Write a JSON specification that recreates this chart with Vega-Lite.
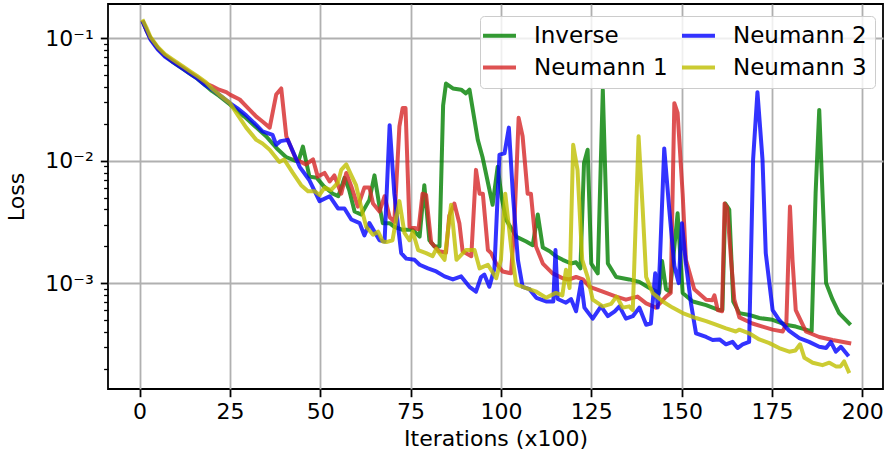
{
 "$schema": "https://vega.github.io/schema/vega-lite/v6.json",
 "width": 775, "height": 385,
 "autosize": {"type": "none"},
 "padding": {"left": 108, "top": 4, "right": 4, "bottom": 68},
 "background": "white",
 "config": {
  "font": "DejaVu Sans",
  "view": {"stroke": "black", "strokeWidth": 1.8},
  "axis": {"labelFont": "DejaVu Sans", "titleFont": "DejaVu Sans", "labelFontSize": 22, "titleFontSize": 22, "titleFontWeight": "normal", "labelColor": "black", "titleColor": "black", "tickColor": "black", "domain": false, "gridColor": "#b0b0b0", "gridWidth": 1.8, "labelOverlap": false, "labelFlush": false, "labelBound": false}
 },
 "datasets": {
  "loss": [
   {"s":"Inverse","x":1,"y":0.1349},{"s":"Inverse","x":2,"y":0.1148},{"s":"Inverse","x":3,"y":0.1},{"s":"Inverse","x":5,"y":0.08318},{"s":"Inverse","x":7,"y":0.07244},{"s":"Inverse","x":9,"y":0.06457},{"s":"Inverse","x":12,"y":0.05623},{"s":"Inverse","x":14,"y":0.05129},{"s":"Inverse","x":16,"y":0.04677},{"s":"Inverse","x":18,"y":0.04169},{"s":"Inverse","x":20,"y":0.03715},{"s":"Inverse","x":22,"y":0.03388},{"s":"Inverse","x":25,"y":0.02884},{"s":"Inverse","x":27,"y":0.0257},{"s":"Inverse","x":29,"y":0.02291},{"s":"Inverse","x":32,"y":0.01905},{"s":"Inverse","x":35,"y":0.01585},{"s":"Inverse","x":38,"y":0.01259},{"s":"Inverse","x":40.5,"y":0.01072},{"s":"Inverse","x":43,"y":0.01},{"s":"Inverse","x":44,"y":0.01},{"s":"Inverse","x":45.2,"y":0.01303},{"s":"Inverse","x":47,"y":0.007413},{"s":"Inverse","x":49,"y":0.007244},{"s":"Inverse","x":51,"y":0.006166},{"s":"Inverse","x":53.5,"y":0.00537},{"s":"Inverse","x":55,"y":0.005129},{"s":"Inverse","x":56.7,"y":0.007244},{"s":"Inverse","x":58,"y":0.005754},{"s":"Inverse","x":59.5,"y":0.003846},{"s":"Inverse","x":61.3,"y":0.003631},{"s":"Inverse","x":63.6,"y":0.004786},{"s":"Inverse","x":65,"y":0.007586},{"s":"Inverse","x":66.4,"y":0.004217},{"s":"Inverse","x":67.3,"y":0.00309},{"s":"Inverse","x":69.2,"y":0.00309},{"s":"Inverse","x":70.5,"y":0.002884},{"s":"Inverse","x":72.8,"y":0.002723},{"s":"Inverse","x":75.6,"y":0.002723},{"s":"Inverse","x":77.5,"y":0.002399},{"s":"Inverse","x":78.8,"y":0.00631},{"s":"Inverse","x":80.2,"y":0.002239},{"s":"Inverse","x":81.6,"y":0.001995},{"s":"Inverse","x":83,"y":0.001995},{"s":"Inverse","x":84,"y":0.02818},{"s":"Inverse","x":84.8,"y":0.04266},{"s":"Inverse","x":86.7,"y":0.0389},{"s":"Inverse","x":89,"y":0.03802},{"s":"Inverse","x":90.3,"y":0.03548},{"s":"Inverse","x":91.3,"y":0.03802},{"s":"Inverse","x":93.6,"y":0.01479},{"s":"Inverse","x":94.9,"y":0.01072},{"s":"Inverse","x":97.7,"y":0.004365},{"s":"Inverse","x":99.1,"y":0.008913},{"s":"Inverse","x":100.2,"y":0.005012},{"s":"Inverse","x":101.4,"y":0.003311},{"s":"Inverse","x":104.2,"y":0.002399},{"s":"Inverse","x":107,"y":0.002188},{"s":"Inverse","x":108.8,"y":0.002042},{"s":"Inverse","x":110.2,"y":0.003631},{"s":"Inverse","x":111.6,"y":0.00195},{"s":"Inverse","x":113.5,"y":0.00182},{"s":"Inverse","x":115.2,"y":0.00166},{"s":"Inverse","x":117.1,"y":0.001549},{"s":"Inverse","x":119.4,"y":0.001445},{"s":"Inverse","x":120.8,"y":0.001479},{"s":"Inverse","x":122,"y":0.001318},{"s":"Inverse","x":123,"y":0.00955},{"s":"Inverse","x":124,"y":0.0123},{"s":"Inverse","x":125,"y":0.001445},{"s":"Inverse","x":126.8,"y":0.001202},{"s":"Inverse","x":128.2,"y":0.03802},{"s":"Inverse","x":129.6,"y":0.001445},{"s":"Inverse","x":131.9,"y":0.001122},{"s":"Inverse","x":135.5,"y":0.001072},{"s":"Inverse","x":138.3,"y":0.001023},{"s":"Inverse","x":141.1,"y":0.000912},{"s":"Inverse","x":143.8,"y":0.0008318},{"s":"Inverse","x":144.6,"y":0.001514},{"s":"Inverse","x":145.7,"y":0.0008913},{"s":"Inverse","x":146.8,"y":0.0008511},{"s":"Inverse","x":148.9,"y":0.003715},{"s":"Inverse","x":150.3,"y":0.0008318},{"s":"Inverse","x":153.1,"y":0.0007079},{"s":"Inverse","x":156.8,"y":0.0006607},{"s":"Inverse","x":160.4,"y":0.0006026},{"s":"Inverse","x":161.3,"y":0.0006026},{"s":"Inverse","x":162.1,"y":0.004467},{"s":"Inverse","x":163.2,"y":0.003981},{"s":"Inverse","x":164.3,"y":0.0007079},{"s":"Inverse","x":166,"y":0.0005689},{"s":"Inverse","x":168.7,"y":0.0005495},{"s":"Inverse","x":171.5,"y":0.0005188},{"s":"Inverse","x":175.2,"y":0.0005012},{"s":"Inverse","x":178.8,"y":0.0004571},{"s":"Inverse","x":181.6,"y":0.0004416},{"s":"Inverse","x":184.4,"y":0.0004169},{"s":"Inverse","x":186,"y":0.0004027},{"s":"Inverse","x":187.1,"y":0.005432},{"s":"Inverse","x":188.1,"y":0.026},{"s":"Inverse","x":189,"y":0.005432},{"s":"Inverse","x":190,"y":0.001},{"s":"Inverse","x":191.8,"y":0.0007328},{"s":"Inverse","x":193.6,"y":0.0005689},{"s":"Inverse","x":196.4,"y":0.0004677},

   {"s":"Neumann 1","x":1,"y":0.1349},{"s":"Neumann 1","x":2,"y":0.1148},{"s":"Neumann 1","x":3,"y":0.1},{"s":"Neumann 1","x":5,"y":0.08318},{"s":"Neumann 1","x":7,"y":0.07244},{"s":"Neumann 1","x":9,"y":0.06607},{"s":"Neumann 1","x":12,"y":0.05754},{"s":"Neumann 1","x":14,"y":0.05248},{"s":"Neumann 1","x":16,"y":0.04786},{"s":"Neumann 1","x":18.4,"y":0.04266},{"s":"Neumann 1","x":20,"y":0.04074},{"s":"Neumann 1","x":22,"y":0.03802},{"s":"Neumann 1","x":24,"y":0.03631},{"s":"Neumann 1","x":25,"y":0.03467},{"s":"Neumann 1","x":27.7,"y":0.03162},{"s":"Neumann 1","x":30,"y":0.02692},{"s":"Neumann 1","x":32.3,"y":0.02291},{"s":"Neumann 1","x":34,"y":0.02089},{"s":"Neumann 1","x":36,"y":0.01862},{"s":"Neumann 1","x":37.8,"y":0.03467},{"s":"Neumann 1","x":39.2,"y":0.0389},{"s":"Neumann 1","x":40.6,"y":0.01585},{"s":"Neumann 1","x":43.3,"y":0.01023},{"s":"Neumann 1","x":46,"y":0.009333},{"s":"Neumann 1","x":48,"y":0.01023},{"s":"Neumann 1","x":49.3,"y":0.007413},{"s":"Neumann 1","x":51.2,"y":0.007943},{"s":"Neumann 1","x":52.6,"y":0.006761},{"s":"Neumann 1","x":53.9,"y":0.007586},{"s":"Neumann 1","x":55.8,"y":0.00537},{"s":"Neumann 1","x":57.2,"y":0.007943},{"s":"Neumann 1","x":58.6,"y":0.006166},{"s":"Neumann 1","x":60.4,"y":0.004217},{"s":"Neumann 1","x":62.2,"y":0.006026},{"s":"Neumann 1","x":63.6,"y":0.006026},{"s":"Neumann 1","x":64.6,"y":0.004467},{"s":"Neumann 1","x":66.4,"y":0.003846},{"s":"Neumann 1","x":67.8,"y":0.005129},{"s":"Neumann 1","x":69.2,"y":0.003467},{"s":"Neumann 1","x":70.5,"y":0.003162},{"s":"Neumann 1","x":71.9,"y":0.01905},{"s":"Neumann 1","x":72.8,"y":0.02692},{"s":"Neumann 1","x":73.6,"y":0.02692},{"s":"Neumann 1","x":74.7,"y":0.002884},{"s":"Neumann 1","x":76.1,"y":0.002818},{"s":"Neumann 1","x":77.2,"y":0.002754},{"s":"Neumann 1","x":78.3,"y":0.00537},{"s":"Neumann 1","x":79.3,"y":0.005248},{"s":"Neumann 1","x":80.7,"y":0.002138},{"s":"Neumann 1","x":82.9,"y":0.00182},{"s":"Neumann 1","x":84.8,"y":0.001778},{"s":"Neumann 1","x":85.7,"y":0.003548},{"s":"Neumann 1","x":87.1,"y":0.004467},{"s":"Neumann 1","x":88.5,"y":0.00309},{"s":"Neumann 1","x":89.4,"y":0.00182},{"s":"Neumann 1","x":91.8,"y":0.00166},{"s":"Neumann 1","x":93.1,"y":0.008414},{"s":"Neumann 1","x":94.1,"y":0.00537},{"s":"Neumann 1","x":95,"y":0.00537},{"s":"Neumann 1","x":96.4,"y":0.001862},{"s":"Neumann 1","x":97.3,"y":0.001758},{"s":"Neumann 1","x":98.7,"y":0.001445},{"s":"Neumann 1","x":100.5,"y":0.001245},{"s":"Neumann 1","x":102.8,"y":0.001202},{"s":"Neumann 1","x":103.7,"y":0.002884},{"s":"Neumann 1","x":104.9,"y":0.02239},{"s":"Neumann 1","x":106,"y":0.01585},{"s":"Neumann 1","x":107.4,"y":0.00537},{"s":"Neumann 1","x":108.3,"y":0.00537},{"s":"Neumann 1","x":109.7,"y":0.001995},{"s":"Neumann 1","x":111.6,"y":0.001445},{"s":"Neumann 1","x":114.3,"y":0.001202},{"s":"Neumann 1","x":117.1,"y":0.001096},{"s":"Neumann 1","x":118.9,"y":0.001072},{"s":"Neumann 1","x":120.8,"y":0.001122},{"s":"Neumann 1","x":122.7,"y":0.001072},{"s":"Neumann 1","x":124.5,"y":0.0009333},{"s":"Neumann 1","x":126.3,"y":0.0008913},{"s":"Neumann 1","x":129.1,"y":0.0008318},{"s":"Neumann 1","x":131.9,"y":0.0007762},{"s":"Neumann 1","x":134.6,"y":0.0007328},{"s":"Neumann 1","x":137.8,"y":0.0007762},{"s":"Neumann 1","x":140.2,"y":0.0006839},{"s":"Neumann 1","x":142.9,"y":0.000631},{"s":"Neumann 1","x":145.7,"y":0.0007762},{"s":"Neumann 1","x":147,"y":0.0008318},{"s":"Neumann 1","x":148,"y":0.02951},{"s":"Neumann 1","x":148.9,"y":0.02455},{"s":"Neumann 1","x":150.3,"y":0.00537},{"s":"Neumann 1","x":151.2,"y":0.001549},{"s":"Neumann 1","x":153.5,"y":0.0008913},{"s":"Neumann 1","x":156.8,"y":0.0007328},{"s":"Neumann 1","x":158.5,"y":0.0007244},{"s":"Neumann 1","x":159.1,"y":0.0007943},{"s":"Neumann 1","x":160,"y":0.0006026},{"s":"Neumann 1","x":161.2,"y":0.0005888},{"s":"Neumann 1","x":161.9,"y":0.004467},{"s":"Neumann 1","x":162.6,"y":0.004169},{"s":"Neumann 1","x":163.7,"y":0.001549},{"s":"Neumann 1","x":164.6,"y":0.0007328},{"s":"Neumann 1","x":166,"y":0.0005248},{"s":"Neumann 1","x":169.6,"y":0.0004677},{"s":"Neumann 1","x":172.4,"y":0.0004416},{"s":"Neumann 1","x":175.2,"y":0.0004169},{"s":"Neumann 1","x":178,"y":0.0004027},{"s":"Neumann 1","x":179,"y":0.0004677},{"s":"Neumann 1","x":180,"y":0.004217},{"s":"Neumann 1","x":180.7,"y":0.001549},{"s":"Neumann 1","x":181.6,"y":0.0006026},{"s":"Neumann 1","x":184.4,"y":0.0004027},{"s":"Neumann 1","x":188.1,"y":0.0003631},{"s":"Neumann 1","x":191.8,"y":0.0003428},{"s":"Neumann 1","x":196.4,"y":0.0003236},

   {"s":"Neumann 2","x":1,"y":0.1334},{"s":"Neumann 2","x":2,"y":0.1135},{"s":"Neumann 2","x":3,"y":0.09772},{"s":"Neumann 2","x":5,"y":0.08128},{"s":"Neumann 2","x":7,"y":0.07079},{"s":"Neumann 2","x":9,"y":0.06457},{"s":"Neumann 2","x":12,"y":0.05623},{"s":"Neumann 2","x":14,"y":0.05129},{"s":"Neumann 2","x":16,"y":0.04677},{"s":"Neumann 2","x":18,"y":0.04169},{"s":"Neumann 2","x":20.2,"y":0.03802},{"s":"Neumann 2","x":22,"y":0.03467},{"s":"Neumann 2","x":25,"y":0.02951},{"s":"Neumann 2","x":27,"y":0.02692},{"s":"Neumann 2","x":29.5,"y":0.02344},{"s":"Neumann 2","x":32,"y":0.01995},{"s":"Neumann 2","x":34,"y":0.01738},{"s":"Neumann 2","x":36.8,"y":0.01622},{"s":"Neumann 2","x":37.8,"y":0.01349},{"s":"Neumann 2","x":39,"y":0.01445},{"s":"Neumann 2","x":41,"y":0.01479},{"s":"Neumann 2","x":44.3,"y":0.008913},{"s":"Neumann 2","x":47,"y":0.006918},{"s":"Neumann 2","x":49.8,"y":0.004677},{"s":"Neumann 2","x":52.6,"y":0.005129},{"s":"Neumann 2","x":54.9,"y":0.004074},{"s":"Neumann 2","x":56.7,"y":0.004074},{"s":"Neumann 2","x":58.6,"y":0.003311},{"s":"Neumann 2","x":60.9,"y":0.00309},{"s":"Neumann 2","x":62.2,"y":0.002455},{"s":"Neumann 2","x":63.6,"y":0.00309},{"s":"Neumann 2","x":66.4,"y":0.002239},{"s":"Neumann 2","x":67.8,"y":0.002188},{"s":"Neumann 2","x":69.2,"y":0.0195},{"s":"Neumann 2","x":70.5,"y":0.00537},{"s":"Neumann 2","x":72.4,"y":0.001758},{"s":"Neumann 2","x":73.8,"y":0.001585},{"s":"Neumann 2","x":76.1,"y":0.001549},{"s":"Neumann 2","x":77.5,"y":0.001413},{"s":"Neumann 2","x":79.8,"y":0.001318},{"s":"Neumann 2","x":82.1,"y":0.001245},{"s":"Neumann 2","x":84.4,"y":0.001135},{"s":"Neumann 2","x":86.7,"y":0.001072},{"s":"Neumann 2","x":89,"y":0.001135},{"s":"Neumann 2","x":91.3,"y":0.0009333},{"s":"Neumann 2","x":93.1,"y":0.0008511},{"s":"Neumann 2","x":94.5,"y":0.001122},{"s":"Neumann 2","x":95.4,"y":0.001175},{"s":"Neumann 2","x":96.8,"y":0.0009333},{"s":"Neumann 2","x":98.2,"y":0.001318},{"s":"Neumann 2","x":99.6,"y":0.01122},{"s":"Neumann 2","x":101,"y":0.01148},{"s":"Neumann 2","x":102.2,"y":0.01862},{"s":"Neumann 2","x":103.3,"y":0.00537},{"s":"Neumann 2","x":104.7,"y":0.001549},{"s":"Neumann 2","x":106,"y":0.0009333},{"s":"Neumann 2","x":107.9,"y":0.0008913},{"s":"Neumann 2","x":109.8,"y":0.0007586},{"s":"Neumann 2","x":112.5,"y":0.0007079},{"s":"Neumann 2","x":114.5,"y":0.0007079},{"s":"Neumann 2","x":115.1,"y":0.001862},{"s":"Neumann 2","x":115.7,"y":0.0007413},{"s":"Neumann 2","x":118,"y":0.0006918},{"s":"Neumann 2","x":119.4,"y":0.0007413},{"s":"Neumann 2","x":120.8,"y":0.0005888},{"s":"Neumann 2","x":122.2,"y":0.001023},{"s":"Neumann 2","x":123.1,"y":0.000631},{"s":"Neumann 2","x":125.4,"y":0.0005129},{"s":"Neumann 2","x":127.7,"y":0.0006457},{"s":"Neumann 2","x":129.6,"y":0.000537},{"s":"Neumann 2","x":131.5,"y":0.0005888},{"s":"Neumann 2","x":132.8,"y":0.0006457},{"s":"Neumann 2","x":134.6,"y":0.0005129},{"s":"Neumann 2","x":136.5,"y":0.000537},{"s":"Neumann 2","x":138.3,"y":0.000631},{"s":"Neumann 2","x":140.2,"y":0.0004571},{"s":"Neumann 2","x":141.5,"y":0.0004677},{"s":"Neumann 2","x":142.7,"y":0.001202},{"s":"Neumann 2","x":143.4,"y":0.000631},{"s":"Neumann 2","x":144,"y":0.001514},{"s":"Neumann 2","x":145.2,"y":0.01259},{"s":"Neumann 2","x":146.6,"y":0.003981},{"s":"Neumann 2","x":148,"y":0.00138},{"s":"Neumann 2","x":149.2,"y":0.001},{"s":"Neumann 2","x":150.1,"y":0.00309},{"s":"Neumann 2","x":151.2,"y":0.001445},{"s":"Neumann 2","x":152.6,"y":0.0006839},{"s":"Neumann 2","x":154,"y":0.000389},{"s":"Neumann 2","x":156.8,"y":0.0003631},{"s":"Neumann 2","x":158.6,"y":0.0003428},{"s":"Neumann 2","x":160.5,"y":0.0003467},{"s":"Neumann 2","x":162.3,"y":0.0003162},{"s":"Neumann 2","x":164.1,"y":0.0003311},{"s":"Neumann 2","x":165.5,"y":0.0002951},{"s":"Neumann 2","x":166.9,"y":0.0003162},{"s":"Neumann 2","x":168.7,"y":0.0003311},{"s":"Neumann 2","x":169.8,"y":0.01023},{"s":"Neumann 2","x":171,"y":0.03631},{"s":"Neumann 2","x":172.4,"y":0.01023},{"s":"Neumann 2","x":173.3,"y":0.001758},{"s":"Neumann 2","x":175.2,"y":0.0006026},{"s":"Neumann 2","x":177,"y":0.0005012},{"s":"Neumann 2","x":179.8,"y":0.0004074},{"s":"Neumann 2","x":182.6,"y":0.0003548},{"s":"Neumann 2","x":185.3,"y":0.0003311},{"s":"Neumann 2","x":188.1,"y":0.000302},{"s":"Neumann 2","x":190,"y":0.0002951},{"s":"Neumann 2","x":191.3,"y":0.0003311},{"s":"Neumann 2","x":192.7,"y":0.0002754},{"s":"Neumann 2","x":194.1,"y":0.000302},{"s":"Neumann 2","x":195.9,"y":0.00026},

   {"s":"Neumann 3","x":1,"y":0.138},{"s":"Neumann 3","x":2,"y":0.1202},{"s":"Neumann 3","x":3,"y":0.1023},{"s":"Neumann 3","x":5,"y":0.08511},{"s":"Neumann 3","x":7,"y":0.07413},{"s":"Neumann 3","x":9,"y":0.06761},{"s":"Neumann 3","x":12,"y":0.05888},{"s":"Neumann 3","x":14,"y":0.0537},{"s":"Neumann 3","x":16,"y":0.04898},{"s":"Neumann 3","x":18.4,"y":0.04365},{"s":"Neumann 3","x":20,"y":0.0389},{"s":"Neumann 3","x":22,"y":0.03467},{"s":"Neumann 3","x":25,"y":0.02951},{"s":"Neumann 3","x":27,"y":0.02399},{"s":"Neumann 3","x":29.5,"y":0.01862},{"s":"Neumann 3","x":32.3,"y":0.01479},{"s":"Neumann 3","x":34,"y":0.0138},{"s":"Neumann 3","x":36,"y":0.0123},{"s":"Neumann 3","x":38.7,"y":0.009772},{"s":"Neumann 3","x":40,"y":0.01023},{"s":"Neumann 3","x":42.4,"y":0.007943},{"s":"Neumann 3","x":44.7,"y":0.00631},{"s":"Neumann 3","x":46.6,"y":0.005623},{"s":"Neumann 3","x":48.5,"y":0.005623},{"s":"Neumann 3","x":49.8,"y":0.005248},{"s":"Neumann 3","x":51.2,"y":0.006026},{"s":"Neumann 3","x":53,"y":0.005754},{"s":"Neumann 3","x":54.9,"y":0.006607},{"s":"Neumann 3","x":55.8,"y":0.008414},{"s":"Neumann 3","x":57.2,"y":0.009333},{"s":"Neumann 3","x":58.6,"y":0.007586},{"s":"Neumann 3","x":59.9,"y":0.00631},{"s":"Neumann 3","x":61.3,"y":0.004217},{"s":"Neumann 3","x":62.7,"y":0.002884},{"s":"Neumann 3","x":64.6,"y":0.002483},{"s":"Neumann 3","x":66,"y":0.00263},{"s":"Neumann 3","x":67.3,"y":0.002188},{"s":"Neumann 3","x":68.3,"y":0.002163},{"s":"Neumann 3","x":70,"y":0.002239},{"s":"Neumann 3","x":71,"y":0.003311},{"s":"Neumann 3","x":71.9,"y":0.004677},{"s":"Neumann 3","x":73.3,"y":0.00257},{"s":"Neumann 3","x":74.7,"y":0.002239},{"s":"Neumann 3","x":75.6,"y":0.00263},{"s":"Neumann 3","x":77.1,"y":0.001862},{"s":"Neumann 3","x":79.3,"y":0.001758},{"s":"Neumann 3","x":81.1,"y":0.00166},{"s":"Neumann 3","x":82.1,"y":0.001905},{"s":"Neumann 3","x":84.4,"y":0.001549},{"s":"Neumann 3","x":86.2,"y":0.004365},{"s":"Neumann 3","x":87.7,"y":0.001549},{"s":"Neumann 3","x":90.3,"y":0.001862},{"s":"Neumann 3","x":92.7,"y":0.001862},{"s":"Neumann 3","x":94.1,"y":0.001318},{"s":"Neumann 3","x":96.4,"y":0.001413},{"s":"Neumann 3","x":98.7,"y":0.001096},{"s":"Neumann 3","x":100,"y":0.001549},{"s":"Neumann 3","x":101.2,"y":0.00537},{"s":"Neumann 3","x":102.8,"y":0.001995},{"s":"Neumann 3","x":104.2,"y":0.0009772},{"s":"Neumann 3","x":107,"y":0.000912},{"s":"Neumann 3","x":109.8,"y":0.0008511},{"s":"Neumann 3","x":112.5,"y":0.0007586},{"s":"Neumann 3","x":115.2,"y":0.0008318},{"s":"Neumann 3","x":117,"y":0.0007943},{"s":"Neumann 3","x":118,"y":0.001288},{"s":"Neumann 3","x":119,"y":0.000912},{"s":"Neumann 3","x":120,"y":0.01349},{"s":"Neumann 3","x":121.2,"y":0.008414},{"s":"Neumann 3","x":122.5,"y":0.001549},{"s":"Neumann 3","x":124,"y":0.001122},{"s":"Neumann 3","x":125.4,"y":0.0007328},{"s":"Neumann 3","x":128.2,"y":0.0006457},{"s":"Neumann 3","x":130.5,"y":0.0006761},{"s":"Neumann 3","x":132,"y":0.0007762},{"s":"Neumann 3","x":133.7,"y":0.000631},{"s":"Neumann 3","x":135.5,"y":0.0006457},{"s":"Neumann 3","x":136.5,"y":0.0006026},{"s":"Neumann 3","x":138.1,"y":0.01585},{"s":"Neumann 3","x":139.2,"y":0.004217},{"s":"Neumann 3","x":140.2,"y":0.001122},{"s":"Neumann 3","x":142,"y":0.0008318},{"s":"Neumann 3","x":144.8,"y":0.0007079},{"s":"Neumann 3","x":147.5,"y":0.000631},{"s":"Neumann 3","x":150.3,"y":0.0005689},{"s":"Neumann 3","x":154,"y":0.0005188},{"s":"Neumann 3","x":156.8,"y":0.0004898},{"s":"Neumann 3","x":159.5,"y":0.0004571},{"s":"Neumann 3","x":162.3,"y":0.0004266},{"s":"Neumann 3","x":165,"y":0.0004027},{"s":"Neumann 3","x":166,"y":0.0004169},{"s":"Neumann 3","x":168.7,"y":0.000389},{"s":"Neumann 3","x":171.5,"y":0.0003467},{"s":"Neumann 3","x":174.3,"y":0.0003236},{"s":"Neumann 3","x":177,"y":0.0002951},{"s":"Neumann 3","x":179.8,"y":0.0002754},{"s":"Neumann 3","x":181.5,"y":0.0002818},{"s":"Neumann 3","x":182.8,"y":0.0003162},{"s":"Neumann 3","x":184,"y":0.0002455},{"s":"Neumann 3","x":186.3,"y":0.0002239},{"s":"Neumann 3","x":189,"y":0.0002138},{"s":"Neumann 3","x":190.9,"y":0.0002239},{"s":"Neumann 3","x":192.7,"y":0.0002089},{"s":"Neumann 3","x":194,"y":0.0002089},{"s":"Neumann 3","x":195,"y":0.0002291},{"s":"Neumann 3","x":196.2,"y":0.0001905}
  ]
 },
 "data": {"name": "loss"},
 "mark": {"type": "line", "strokeWidth": 4, "opacity": 0.8, "strokeJoin": "round", "strokeCap": "square"},
 "encoding": {
  "x": {"field": "x", "type": "quantitative", "scale": {"domain": [-8.75, 205.75], "nice": false, "zero": false},
   "axis": {"values": [0, 25, 50, 75, 100, 125, 150, 175, 200], "title": "Iterations (x100)", "tickSize": 7.7, "tickWidth": 1.8, "labelPadding": 5, "titlePadding": 6}},
  "y": {"field": "y", "type": "quantitative", "scale": {"type": "log", "domain": [0.0001365, 0.1905], "nice": false},
   "axis": {"values": [0.0002, 0.0003, 0.0004, 0.0005, 0.0006, 0.0007, 0.0008, 0.0009, 0.001, 0.002, 0.003, 0.004, 0.005, 0.006, 0.007, 0.008, 0.009, 0.01, 0.02, 0.03, 0.04, 0.05, 0.06, 0.07, 0.08, 0.09, 0.1],
    "labelExpr": "datum.value == 0.1 ? '10⁻¹' : datum.value == 0.01 ? '10⁻²' : datum.value == 0.001 ? '10⁻³' : ''",
    "title": "Loss", "titlePadding": 16, "labelPadding": 7,
    "tickSize": {"condition": {"test": "datum.value == 0.1 || datum.value == 0.01 || datum.value == 0.001", "value": 7.7}, "value": 4.4},
    "tickWidth": {"condition": {"test": "datum.value == 0.1 || datum.value == 0.01 || datum.value == 0.001", "value": 1.8}, "value": 1.3},
    "gridOpacity": {"condition": {"test": "datum.value == 0.1 || datum.value == 0.01 || datum.value == 0.001", "value": 1}, "value": 0}}},
  "color": {"field": "s", "type": "nominal",
   "scale": {"domain": ["Inverse", "Neumann 1", "Neumann 2", "Neumann 3"], "range": ["#008000", "#d62728", "#0000ff", "#bfbf00"]},
   "legend": {"title": null, "orient": "none", "legendX": 372, "legendY": 12, "columns": 2, "symbolType": "M-2,0L2,0", "symbolSize": 272, "symbolStrokeWidth": 4, "symbolOpacity": 0.8, "labelFont": "DejaVu Sans", "labelFontSize": 23, "labelColor": "black", "labelOffset": 23, "columnPadding": 6, "rowPadding": 8, "padding": 8, "strokeColor": "#cccccc", "fillColor": "rgba(255,255,255,0.8)", "cornerRadius": 4, "labelLimit": 300}}
 }
}
